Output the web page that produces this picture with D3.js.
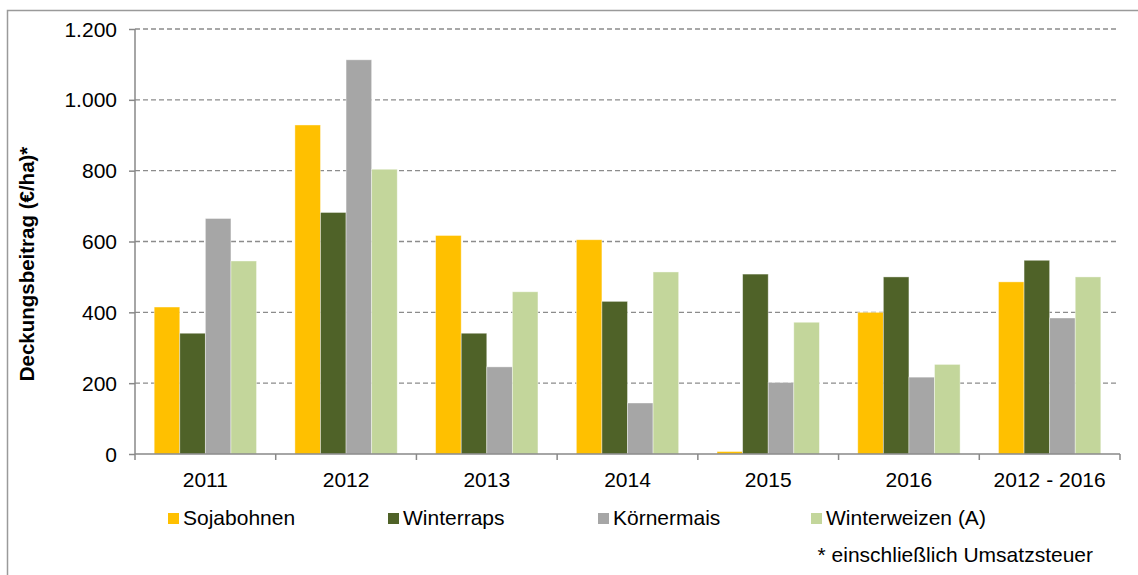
<!DOCTYPE html>
<html>
<head>
<meta charset="utf-8">
<script src="https://cdn.jsdelivr.net/npm/d3@7"></script>
<style>
  body { margin: 0; background: #fff; }
  svg text { font-family: "Liberation Sans", Arial, sans-serif; fill: #000; }
</style>
</head>
<body>
<svg id="chart" width="1138" height="575"></svg>
<script>
// data
var years = ["2011", "2012", "2013", "2014", "2015", "2016", "2012 - 2016"];
var series = ["Sojabohnen", "Winterraps", "Körnermais", "Winterweizen (A)"];
var colors = ["#FFC000", "#4F6228", "#A6A6A6", "#C3D69B"];
var soja = [415, 929, 617, 605, 7, 400, 486];
var raps = [341, 682, 341, 431, 508, 500, 547];
var mais = [665, 1113, 246, 144, 202, 217, 384];
var weizen = [545, 804, 458, 514, 372, 253, 500];
var yTicks = [0, 200, 400, 600, 800, 1000, 1200];

var values = [soja, raps, mais, weizen];
var fs = 21;

var svg = d3.select("#chart");

// outer frame (only top and left visible)
svg.append("rect")
    .attr("x", 7.5).attr("y", 10.5)
    .attr("width", 1200).attr("height", 700)
    .attr("fill", "none")
    .attr("stroke", "#9a9a9a")
    .attr("stroke-width", 1.5);

var x = d3.scaleBand().domain(years).range([135, 1120]);
var x1 = d3.scaleBand().domain(series).range([0, x.bandwidth()]).paddingInner(0).paddingOuter(0.75);
var y = d3.scaleLinear().domain([0, 1200]).range([454, 29]);

function label(g, tx, ty, str, anchor) {
  return g.append("text")
      .attr("x", tx).attr("y", ty)
      .attr("text-anchor", anchor)
      .style("font-size", fs + "px")
      .text(str);
}

// gridlines
svg.append("g").selectAll("line")
    .data(yTicks.filter(function(d) { return d > 0; }))
    .enter().append("line")
    .attr("x1", 135).attr("x2", 1119)
    .attr("y1", function(d) { return y(d); })
    .attr("y2", function(d) { return y(d); })
    .attr("stroke", "#8c8c8c")
    .attr("stroke-width", 1.3)
    .attr("stroke-dasharray", "5,3");

// bars
var groups = svg.append("g").selectAll("g")
    .data(years)
    .enter().append("g")
    .attr("transform", function(d) { return "translate(" + x(d) + ",0)"; });

groups.selectAll("rect")
    .data(function(d, i) {
      return series.map(function(s, j) { return { s: s, j: j, v: values[j][i] }; });
    })
    .enter().append("rect")
    .attr("x", function(d) { return x1(d.s); })
    .attr("width", x1.bandwidth())
    .attr("y", function(d) { return y(d.v); })
    .attr("height", function(d) { return y(0) - y(d.v); })
    .attr("fill", function(d) { return colors[d.j]; })
    .attr("stroke", "rgba(255,255,255,0.5)")
    .attr("stroke-width", 0.8);

// y axis
var yAxis = svg.append("g")
    .attr("transform", "translate(135,0)")
    .call(d3.axisLeft(y).tickValues(yTicks).tickSize(6).tickFormat(""));
yAxis.selectAll("line, path").attr("stroke", "#888").attr("stroke-width", 1.5);
yAxis.select(".domain").attr("d", "M0," + y(1200) + "V" + y(0));

var yLab = svg.append("g");
yTicks.forEach(function(t) {
  label(yLab, 117, y(t) + 7.5, d3.format(",")(t).replace(/,/g, "."), "end");
});

// x axis
svg.append("line")
    .attr("x1", 135).attr("x2", 1120)
    .attr("y1", y(0)).attr("y2", y(0))
    .attr("stroke", "#888").attr("stroke-width", 1.5);
svg.append("g").selectAll("line")
    .data(years.map(function(d) { return x(d); }).concat([x.range()[1]]))
    .enter().append("line")
    .attr("x1", function(d) { return d; }).attr("x2", function(d) { return d; })
    .attr("y1", y(0)).attr("y2", y(0) + 6)
    .attr("stroke", "#888").attr("stroke-width", 1.5);

var xLab = svg.append("g");
years.forEach(function(d) {
  label(xLab, x(d) + x.bandwidth() / 2, 486.5, d, "middle");
});

// y title
svg.append("text")
    .attr("transform", "translate(34,264) rotate(-90)")
    .attr("text-anchor", "middle")
    .style("font-size", "20.5px")
    .style("font-weight", "bold")
    .text("Deckungsbeitrag (€/ha)*");

// legend
var legendX = [168, 388, 598, 811];
var leg = svg.append("g");
series.forEach(function(s, i) {
  leg.append("rect")
      .attr("x", legendX[i]).attr("y", 513)
      .attr("width", 11).attr("height", 11)
      .attr("fill", colors[i]);
  label(leg, legendX[i] + 15, 525, s, "start");
});

// footnote
label(svg, 1093, 562, "* einschließlich Umsatzsteuer", "end");
</script>
</body>
</html>
